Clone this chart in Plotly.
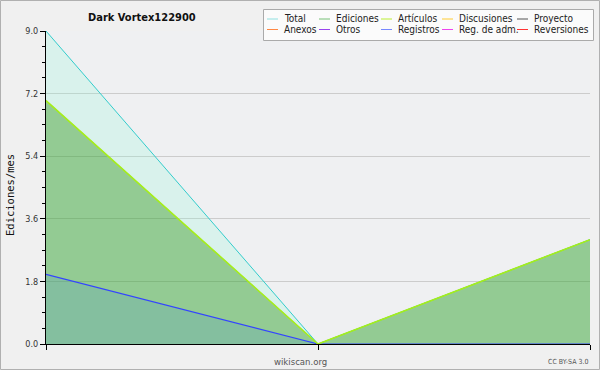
import plotly.graph_objects as go

W, H = 600, 370
ML, MR, MT, MB = 46, 10, 31, 26

x_pos = [0, 1, 2]
total = [9, 0, 3]
ediciones = [7, 0, 3]
articulos = [7, 0, 3]
registros = [2, 0, 0]
zeros = [0, 0, 0]

y_ticks = [0, 1.8, 3.6, 5.4, 7.2, 9.0]
y_ticktext = ["0.0", "1.8", "3.6", "5.4", "7.2", "9.0"]

legend_names = [["Total", "Ediciones", "Artículos", "Discusiones", "Proyecto"],
                ["Anexos", "Otros", "Registros", "Reg. de adm.", "Reversiones"]]
legend_colors = [["#8fe0e0", "#77c077", "#bbee33", "#ffcc33", "#555555"],
                 ["#ff8844", "#9944ee", "#7788ff", "#ee44ee", "#ff3333"]]

COND = "DejaVu Sans Condensed, DejaVu Sans"

fig = go.Figure()
fig.add_trace(go.Scatter(x=x_pos, y=ediciones, mode="lines", fill="tozeroy",
                         fillcolor="rgba(55,166,52,0.5)", line=dict(color="#7cc27c", width=1),
                         showlegend=False))
fig.add_trace(go.Scatter(x=x_pos, y=total, mode="lines", fill="tonexty",
                         fillcolor="rgba(139,250,212,0.22)", line=dict(color="#33cccc", width=1),
                         showlegend=False))
fig.add_trace(go.Scatter(x=x_pos, y=registros, mode="lines", fill="tozeroy",
                         fillcolor="rgba(77,143,212,0.2)", line=dict(color="#3344ff", width=1.2),
                         showlegend=False))
fig.add_trace(go.Scatter(x=x_pos, y=articulos, mode="lines",
                         line=dict(color="#a6ee1a", width=1.6), showlegend=False))
for _ in range(6):
    fig.add_trace(go.Scatter(x=x_pos, y=zeros, mode="lines",
                             line=dict(color="rgba(0,0,0,0)", width=1), showlegend=False))

pw = W - ML - MR
ph = H - MT - MB
def px(xp):
    return (xp - ML) / pw
def py(yp):
    return (H - MB - yp) / ph

shapes = []
annotations = []
shapes.append(dict(type="rect", xref="paper", yref="paper", x0=px(0.5), x1=px(W - 0.5),
                   y0=py(H - 0.5), y1=py(0.5), line=dict(color="#b0b0b0", width=1),
                   fillcolor="rgba(0,0,0,0)", layer="above"))
shapes.append(dict(type="rect", xref="paper", yref="paper", x0=px(263.5), x1=px(593.5),
                   y0=py(40.5), y1=py(9.5), line=dict(color="#aaaaaa", width=1),
                   fillcolor="#fbfbfb", layer="above"))
col_x = [267, 319, 381, 442, 517]
row_y = [19, 29.5]
for r in range(2):
    for c in range(5):
        shapes.append(dict(type="line", xref="paper", yref="paper",
                           x0=px(col_x[c]), x1=px(col_x[c] + 11),
                           y0=py(row_y[r]), y1=py(row_y[r]),
                           line=dict(color=legend_colors[r][c], width=1), layer="above"))
        annotations.append(dict(xref="paper", yref="paper", x=px(col_x[c] + 15), y=py(row_y[r]),
                                text=legend_names[r][c], showarrow=False, xanchor="left",
                                yanchor="middle", font=dict(size=10, color="#222222",
                                family=COND)))

annotations.append(dict(xref="paper", yref="paper", x=px(142), y=py(17), text="<b>Dark Vortex122900</b>",
                        showarrow=False, xanchor="center", yanchor="middle",
                        font=dict(size=11, color="#111111", family=COND)))
annotations.append(dict(xref="paper", yref="paper", x=px(300), y=py(361), text="wikiscan.org",
                        showarrow=False, xanchor="center", yanchor="middle",
                        font=dict(size=9.5, color="#555555", family=COND)))
annotations.append(dict(xref="paper", yref="paper", x=px(590), y=py(362), text="CC BY-SA 3.0",
                        showarrow=False, xanchor="right", yanchor="middle",
                        font=dict(size=7, color="#555555", family=COND)))
annotations.append(dict(xref="paper", yref="paper", x=px(10), y=py(195), text="Ediciones/mes",
                        showarrow=False, xanchor="center", yanchor="middle", textangle=-90,
                        font=dict(size=10.5, color="#111111", family="DejaVu Sans Mono")))

fig.update_layout(
    width=W, height=H,
    margin=dict(l=ML, r=MR, t=MT, b=MB, pad=0),
    paper_bgcolor="#f0f0f0", plot_bgcolor="#eff0f2",
    showlegend=False,
    shapes=shapes, annotations=annotations,
    font=dict(family="DejaVu Sans"),
)
fig.update_xaxes(range=[0, 2], tickvals=x_pos, ticktext=["", "", ""], ticks="outside",
                 ticklen=5, tickcolor="#000", showline=True, linecolor="#000", linewidth=1,
                 showgrid=False, zeroline=False, fixedrange=True)
fig.update_yaxes(range=[0, 9], tickvals=y_ticks, ticktext=y_ticktext, ticks="outside",
                 ticklen=5, tickcolor="#000", showline=True, linecolor="#000", linewidth=1,
                 showgrid=True, gridcolor="#cccccc", gridwidth=1, zeroline=False,
                 tickfont=dict(size=9, color="#333333", family=COND),
                 minor=dict(tickvals=[i * 0.45 for i in range(21)], ticks="outside", ticklen=3,
                            tickcolor="#000", showgrid=False),
                 fixedrange=True)

fig.write_html("out.html")
